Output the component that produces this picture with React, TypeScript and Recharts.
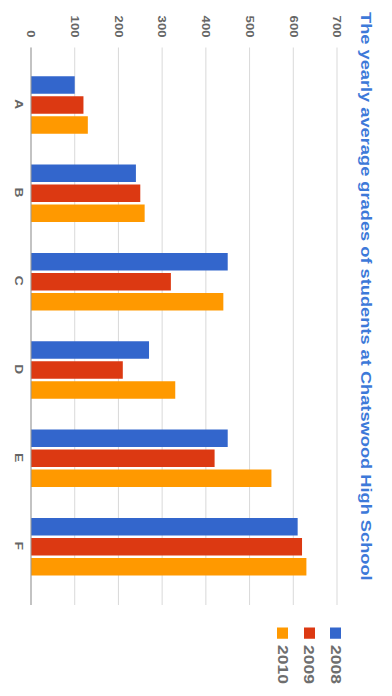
import React from 'react';
import { BarChart, Bar, XAxis, YAxis, CartesianGrid } from 'recharts';

const categories = ['A', 'B', 'C', 'D', 'E', 'F'];
const series2008 = [100, 240, 450, 270, 450, 610];
const series2009 = [120, 250, 320, 210, 420, 620];
const series2010 = [130, 260, 440, 330, 550, 630];
const seriesNames = ['2008', '2009', '2010'];
const seriesColors = ['#3366cc', '#dc3912', '#ff9900'];
const valueTicks = [0, 100, 200, 300, 400, 500, 600, 700];
const chartTitle = 'The yearly average grades of students at Chatswood High School';

const seriesValues = [series2008, series2009, series2010];
const data = categories.map((c, i) => {
  const row: Record<string, string | number> = { name: c };
  seriesNames.forEach((s, k) => {
    row[s] = seriesValues[k][i];
  });
  return row;
});

const FONT = "'Liberation Sans', Arial, sans-serif";
const STRETCH = 1.25;
const W0 = 557;
const H0 = 392;

const LegendBox = () => (
  <div style={{ position: 'absolute', left: 501.6, top: 42.75, fontFamily: FONT }}>
    {seriesNames.map((s, k) => (
      <div key={s} style={{ display: 'flex', alignItems: 'center', height: 26.5 }}>
        <div style={{ width: 9, height: 11, background: seriesColors[k], marginRight: 5.5 }} />
        <span style={{ fontSize: 14, fontWeight: 'bold', color: '#6e6e6e' }}>{s}</span>
      </div>
    ))}
  </div>
);

export default function App() {
  return (
    <div style={{ position: 'absolute', left: 0, top: 0, width: 392, height: 696, overflow: 'hidden', background: '#fff' }}>
      <div
        style={{
          position: 'absolute',
          left: 0,
          top: 0,
          width: W0,
          height: H0,
          transformOrigin: '0 0',
          transform: `translate(392px, 0) rotate(90deg) scale(${STRETCH}, 1)`,
        }}
      >
        <div
          style={{
            position: 'absolute',
            left: 9.6,
            top: 18.6,
            fontFamily: FONT,
            fontSize: 14.6,
            fontWeight: 'bold',
            lineHeight: 1,
            color: '#3d79d9',
            whiteSpace: 'nowrap',
          }}
        >
          {chartTitle}
        </div>
        <BarChart
          width={W0}
          height={H0}
          data={data}
          margin={{ top: 55, right: 73, left: 0, bottom: 0 }}
          barCategoryGap={13}
          barGap={2}
          style={{ fontFamily: FONT }}
        >
          <CartesianGrid vertical={false} stroke="#d9d9d9" />
          <XAxis
            dataKey="name"
            height={31}
            padding={{ left: 10, right: 12 }}
            tickLine={false}
            axisLine={{ stroke: '#999' }}
            tick={{ fill: '#666', fontSize: 11, fontWeight: 'bold' }}
          />
          <YAxis
            domain={[0, 700]}
            ticks={valueTicks}
            width={38}
            axisLine={false}
            tickLine={false}
            tick={{ fill: '#666', fontSize: 10.5, fontWeight: 'bold' }}
          />
          {seriesNames.map((s, k) => (
            <Bar key={s} dataKey={s} fill={seriesColors[k]} isAnimationActive={false} />
          ))}
        </BarChart>
        <LegendBox />
      </div>
    </div>
  );
}
